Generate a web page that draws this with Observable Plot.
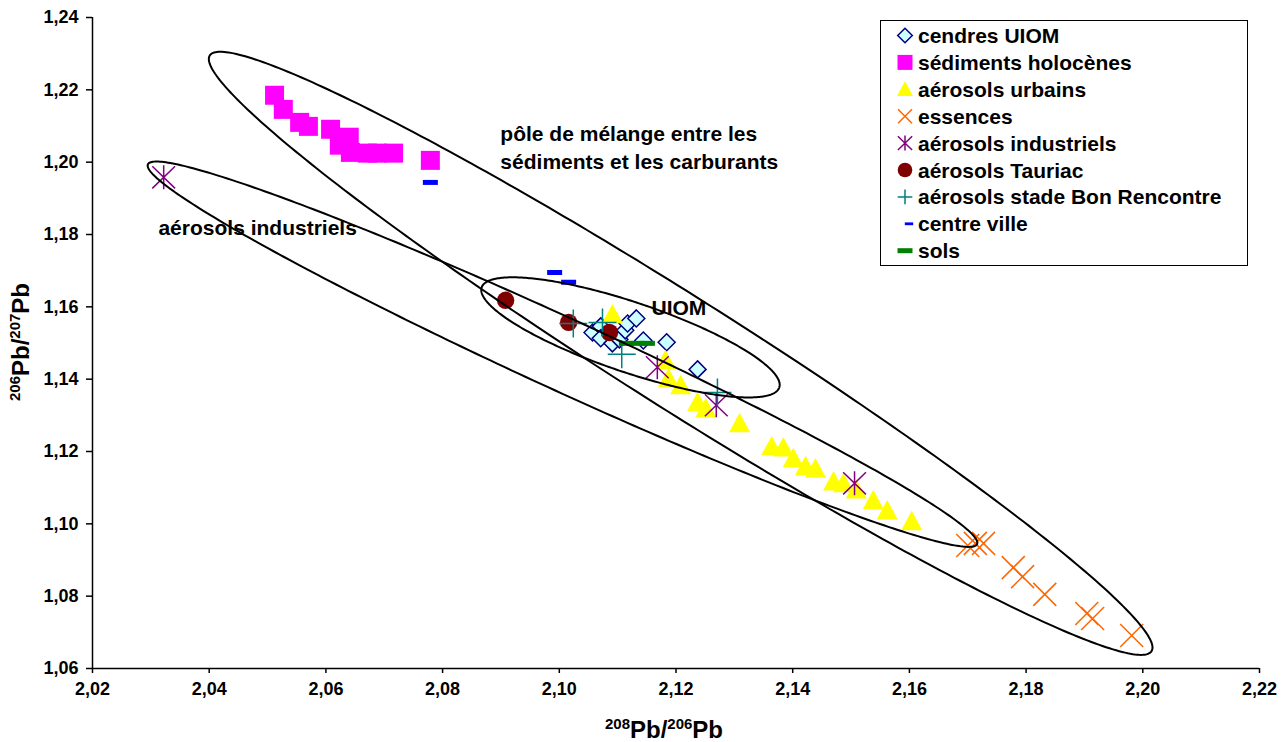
<!DOCTYPE html>
<html><head><meta charset="utf-8">
<script src="https://cdn.jsdelivr.net/npm/d3@7"></script>
<script src="https://cdn.jsdelivr.net/npm/@observablehq/plot@0.6"></script>
<style>body{margin:0;background:#fff} #chart{width:1288px;height:742px}</style>
</head><body><div id="chart"></div>
<script>
// ---- data ----
const seriesNames = ["cendres UIOM","sédiments holocènes","aérosols urbains","essences","aérosols industriels","aérosols Tauriac","aérosols stade Bon Rencontre","centre ville","sols"];

const cendresX = [2.1057,2.1071,2.1071,2.1091,2.1103,2.1113,2.1117,2.1132,2.1144,2.1184,2.1237];
const cendresY = [1.1529,1.1546,1.1513,1.1499,1.1510,1.1535,1.1554,1.1568,1.1507,1.1502,1.1427];

const sedimentsX = [2.0512,2.0527,2.0555,2.0570,2.0608,2.0640,2.0623,2.0642,2.0671,2.0688,2.0716,2.0779];
const sedimentsY = [1.2185,1.2146,1.2110,1.2099,1.2091,1.2069,1.2047,1.2027,1.2025,1.2025,1.2025,1.2005];

const urbainsX = [2.1091,2.1182,2.1187,2.1208,2.1237,2.1251,2.1309,2.1364,2.1384,2.1401,2.1422,2.1439,2.1470,2.1487,2.1509,2.1538,2.1562,2.1604];
const urbainsY = [1.1579,1.1452,1.1402,1.1383,1.1336,1.1319,1.1278,1.1214,1.1211,1.1181,1.1159,1.1153,1.1117,1.1112,1.1095,1.1065,1.1037,1.1007];

const essencesX = [2.1700,2.1713,2.1727,2.1778,2.1794,2.1832,2.1904,2.1914,2.1981];
const essencesY = [1.0940,1.0946,1.0946,1.0879,1.0854,1.0805,1.0752,1.0738,1.0691];

const industrielsX = [2.0322,2.1168,2.1269,2.1506];
const industrielsY = [1.1958,1.1433,1.1328,1.1112];

const tauriacX = [2.0908,2.1016,2.1086];
const tauriacY = [1.1618,1.1557,1.1529];

const bonRencontreX = [2.1024,2.1074,2.1107,2.1271];
const bonRencontreY = [1.1554,1.1557,1.1469,1.1363];

const centreVilleX = [2.0779,2.0992,2.1016];
const centreVilleY = [1.1944,1.1695,1.1668];

const solsX = [2.1115,2.1134,2.1151];
const solsY = [1.1499,1.1499,1.1499];

const xTicks = [2.02,2.04,2.06,2.08,2.10,2.12,2.14,2.16,2.18,2.20,2.22];
const yTicks = [1.06,1.08,1.10,1.12,1.14,1.16,1.18,1.20,1.22,1.24];

// ellipses: major-axis end points (data units) and minor/major ratio
const ellipseNames = ["mélange","industriels","UIOM"];
const ellipseX1 = [2.0401,2.0295,2.0867];
const ellipseY1 = [1.2295,1.1994,1.1654];
const ellipseX2 = [2.2015,2.1716,2.1377];
const ellipseY2 = [1.0648,1.0944,1.1377];
const ellipseRatio = [0.1005,0.079,0.223];

// annotation labels
const noteTexts = ["pôle de mélange entre les","sédiments et les carburants","aérosols industriels","UIOM"];
const noteX = [2.0899,2.0899,2.0313,2.1158];
const noteY = [1.2077,1.1999,1.1817,1.1596];

// ---- layout & styles ----
const W=1288,H=742,mL=92,mR=29,mT=17,mB=74;
const xDomain=[2.02,2.22], yDomain=[1.06,1.24];
const xs=d3.scaleLinear(xDomain,[mL,W-mR]);
const ys=d3.scaleLinear(yDomain,[H-mB,mT]);
const FONT="'Liberation Sans', Arial, Helvetica, sans-serif";

function sym(draw){return {draw(ctx,size){const r=Math.sqrt(size/Math.PI);draw(ctx,r);}};}
const symbols={
  diamond: sym((c,r)=>{c.moveTo(0,-r);c.lineTo(r,0);c.lineTo(0,r);c.lineTo(-r,0);c.closePath();}),
  square: sym((c,r)=>{c.rect(-r,-r,2*r,2*r);}),
  triangle: sym((c,r)=>{c.moveTo(0,-r);c.lineTo(r,0.85*r);c.lineTo(-r,0.85*r);c.closePath();}),
  times: sym((c,r)=>{c.moveTo(-r,-r);c.lineTo(r,r);c.moveTo(-r,r);c.lineTo(r,-r);}),
  star: sym((c,r)=>{c.moveTo(0,-r);c.lineTo(0,r);c.moveTo(-0.95*r,-0.92*r);c.lineTo(0.95*r,0.92*r);c.moveTo(-0.95*r,0.92*r);c.lineTo(0.95*r,-0.92*r);}),
  circle: sym((c,r)=>{c.moveTo(r,0);c.arc(0,0,r,0,2*Math.PI);}),
  plus: sym((c,r)=>{c.moveTo(-r,0);c.lineTo(r,0);c.moveTo(0,-r);c.lineTo(0,r);}),
  dash: sym((c,r)=>{c.rect(-r,-r/3,2*r,2*r/3);})
};
const styles=[
  {symbol:"diamond", r:8.5, lr:7.3, fill:"#CCFFFF", stroke:"#000080", sw:1.5},
  {symbol:"square", r:9.5, lr:7.5, fill:"#FF00FF", stroke:"none", sw:0},
  {symbol:"triangle", r:10.5, lr:8, fill:"#FFFF00", stroke:"none", sw:0},
  {symbol:"times", r:11.5, lr:7, fill:"none", stroke:"#FF6600", sw:1.5},
  {symbol:"star", r:12, lr:7.5, fill:"none", stroke:"#800080", sw:1.5},
  {symbol:"circle", r:8.7, lr:7.3, fill:"#800000", stroke:"none", sw:0},
  {symbol:"plus", r:14, lr:7.3, fill:"none", stroke:"#008080", sw:1.5},
  {symbol:"dash", r:7.5, lr:4.2, fill:"#0000FF", stroke:"none", sw:0},
  {symbol:"dash", r:7.5, lr:7.5, fill:"#008000", stroke:"none", sw:0}
];
const seriesX=[cendresX,sedimentsX,urbainsX,essencesX,industrielsX,tauriacX,bonRencontreX,centreVilleX,solsX];
const seriesY=[cendresY,sedimentsY,urbainsY,essencesY,industrielsY,tauriacY,bonRencontreY,centreVilleY,solsY];

// ellipse outlines (computed in screen space from data end points)
const ellipsePts=[];
ellipseNames.forEach((name,k)=>{
  const p1=[xs(ellipseX1[k]),ys(ellipseY1[k])], p2=[xs(ellipseX2[k]),ys(ellipseY2[k])];
  const cx=(p1[0]+p2[0])/2, cy=(p1[1]+p2[1])/2;
  const a=Math.hypot(p2[0]-p1[0],p2[1]-p1[1])/2, b=a*ellipseRatio[k];
  const th=Math.atan2(p2[1]-p1[1],p2[0]-p1[0]);
  const n=360;
  for(let i=0;i<n;i++){
    const t=2*Math.PI*i/n;
    const px=cx+a*Math.cos(t)*Math.cos(th)-b*Math.sin(t)*Math.sin(th);
    const py=cy+a*Math.cos(t)*Math.sin(th)+b*Math.sin(t)*Math.cos(th);
    ellipsePts.push({x:xs.invert(px),y:ys.invert(py),id:name});
  }
});

const fmt=d=>d.toFixed(2).replace(".",",");
const marks=[];
seriesNames.forEach((name,k)=>{
  const st=styles[k];
  const pts=seriesX[k].map((x,i)=>({x,y:seriesY[k][i]}));
  marks.push(Plot.dot(pts,{x:"x",y:"y",symbol:symbols[st.symbol],r:st.r,fill:st.fill,stroke:st.stroke,strokeWidth:st.sw}));
});
marks.push(Plot.line(ellipsePts,{x:"x",y:"y",z:"id",curve:"linear-closed",stroke:"black",strokeWidth:2,fill:"none"}));
marks.push(Plot.text(noteTexts.map((t,i)=>({t,x:noteX[i],y:noteY[i]})),{x:"x",y:"y",text:"t",textAnchor:"start",fontSize:21,fontWeight:"bold",fill:"black"}));
marks.push(Plot.axisX({ticks:xTicks,tickFormat:fmt,tickSize:5,tickPadding:9,fontSize:18,fontWeight:"bold",strokeWidth:1.5,label:null}));
marks.push(Plot.axisY({ticks:yTicks,tickFormat:fmt,tickSize:6,tickPadding:8,fontSize:18,fontWeight:"bold",strokeWidth:1.5,label:null}));
marks.push(Plot.ruleY([yDomain[0]],{stroke:"black",strokeWidth:1.5}));
marks.push(Plot.ruleX([xDomain[0]],{stroke:"black",strokeWidth:1.5}));

const svg=Plot.plot({
  width:W,height:H,marginLeft:mL,marginRight:mR,marginTop:mT,marginBottom:mB,
  x:{domain:xDomain},y:{domain:yDomain},
  style:{fontFamily:FONT,fontWeight:"bold",background:"white",color:"black",overflow:"visible"},
  marks
});
document.getElementById("chart").appendChild(svg);

// axis titles with superscripts
const s=d3.select(svg);
function title(g,parts){
  const t=g.append("text").attr("text-anchor","middle").attr("font-family",FONT).attr("font-weight","bold").attr("fill","black");
  parts.forEach(([txt,sup])=>{
    t.append("tspan").attr("font-size",sup?15:24).attr("dy",sup?-9:9).text(txt);
  });
  t.select("tspan").attr("dy",-9);
  return t;
}
const tx=s.append("g").attr("transform","translate(664,738)");
title(tx,[["208",1],["Pb/",0],["206",1],["Pb",0]]);
const ty=s.append("g").attr("transform","translate(29,342) rotate(-90)");
title(ty,[["206",1],["Pb/",0],["207",1],["Pb",0]]);

// legend
const lg=s.append("g");
lg.append("rect").attr("x",880.5).attr("y",20.5).attr("width",367).attr("height",245).attr("fill","white").attr("stroke","black").attr("stroke-width",1);
seriesNames.forEach((name,k)=>{
  const st=styles[k], y=35.5+k*26.9;
  lg.append("path").attr("transform",`translate(${k===7?909:905},${y})`)
    .attr("d",d3.symbol(symbols[st.symbol],Math.PI*st.lr*st.lr)())
    .attr("fill",st.fill).attr("stroke",st.stroke).attr("stroke-width",st.sw);
  lg.append("text").attr("x",918).attr("y",y).attr("dy","0.36em").attr("font-size",21)
    .attr("text-anchor","start")
    .attr("font-family",FONT).attr("font-weight","bold").attr("fill","black").text(name);
});
</script></body></html>
